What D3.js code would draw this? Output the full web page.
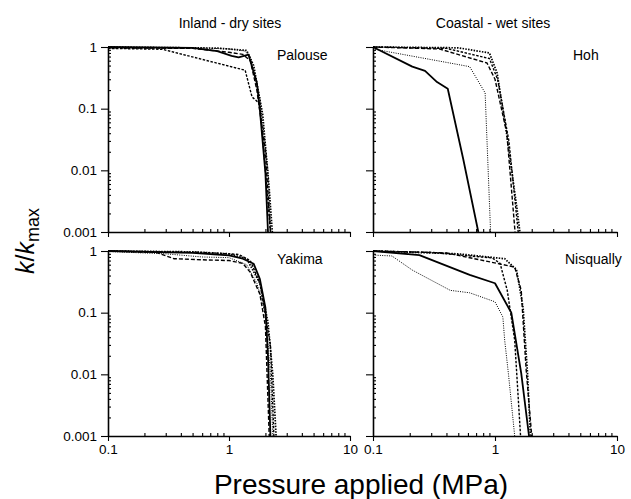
<!DOCTYPE html>
<html><head><meta charset="utf-8">
<script src="https://cdn.jsdelivr.net/npm/d3@7"></script>
<style>
html,body{margin:0;padding:0;background:#fff;}
svg{display:block;font-family:"Liberation Sans",Arial,sans-serif;}
</style></head>
<body><svg id="c" width="631" height="499"></svg>
<script>
// ---------- DATA ----------
const columnTitles = ["Inland - dry sites", "Coastal - wet sites"];
const siteNames = ["Palouse", "Hoh", "Yakima", "Nisqually"];
const yTickValues = [1, 0.1, 0.01, 0.001];
const yTickLabels = ["1", "0.1", "0.01", "0.001"];
const xTickValues = [0.1, 1, 10];
const xTickLabels = ["0.1", "1", "10"];

// each series: list of [pressure (MPa), k/kmax]
const palouse = [
  [[0.1,1],[0.5,0.97],[0.8,0.86],[1.05,0.72],[1.2,0.68],[1.45,0.75],[1.7,0.26],[1.8,0.095],[2.0,0.009],[2.1,0.001]],
  [[0.1,0.97],[0.6,0.96],[1.0,0.93],[1.35,0.86],[1.5,0.7],[1.8,0.15],[2.1,0.01],[2.22,0.001]],
  [[0.1,0.97],[0.5,0.95],[1.0,0.82],[1.3,0.76],[1.5,0.6],[1.7,0.2],[2.0,0.02],[2.2,0.001]],
  [[0.1,0.95],[0.28,0.92],[1.36,0.42],[1.55,0.155],[1.8,0.12],[2.0,0.01],[2.2,0.001]],
  [[0.1,1],[0.8,0.96],[1.4,0.88],[1.6,0.5],[1.9,0.08],[2.15,0.005],[2.28,0.001]]
];
const hoh = [
  [[0.1,1],[0.21,0.48],[0.267,0.41],[0.335,0.27],[0.41,0.21],[0.55,0.015],[0.73,0.001]],
  [[0.1,0.93],[0.62,0.48],[0.83,0.18],[0.92,0.001]],
  [[0.1,1],[0.35,0.93],[0.86,0.55],[1.0,0.3],[1.25,0.04],[1.46,0.001]],
  [[0.1,1],[0.4,0.95],[0.9,0.65],[1.05,0.3],[1.3,0.03],[1.55,0.001]],
  [[0.1,1],[0.5,0.97],[0.9,0.8],[1.04,0.38],[1.21,0.059],[1.51,0.0025],[1.6,0.001]]
];
const yakima = [
  [[0.1,1],[0.5,0.93],[1.0,0.85],[1.3,0.75],[1.6,0.62],[1.8,0.35],[2.0,0.12],[2.1,0.02],[2.2,0.001]],
  [[0.1,0.98],[0.3,0.9],[0.6,0.8],[1.0,0.78],[1.4,0.6],[1.7,0.3],[2.0,0.1],[2.2,0.01],[2.3,0.001]],
  [[0.1,1],[0.25,0.95],[0.35,0.75],[0.6,0.72],[1.0,0.7],[1.3,0.63],[1.5,0.45],[1.8,0.2],[2.0,0.06],[2.15,0.001]],
  [[0.1,1],[0.6,0.95],[1.2,0.88],[1.5,0.7],[1.8,0.3],[2.2,0.03],[2.35,0.001]],
  [[0.1,1],[0.5,0.97],[1.0,0.9],[1.4,0.75],[1.8,0.3],[2.1,0.07],[2.3,0.01],[2.45,0.001]]
];
const nisqually = [
  [[0.1,1],[0.24,0.86],[0.62,0.41],[1.0,0.3],[1.36,0.1],[1.64,0.0105],[1.9,0.001]],
  [[0.1,0.86],[0.143,0.83],[0.21,0.49],[0.43,0.23],[0.62,0.21],[1.0,0.15],[1.16,0.085],[1.2,0.036],[1.29,0.01],[1.45,0.001]],
  [[0.1,1],[0.4,0.93],[1.45,0.55],[1.64,0.23],[1.8,0.012],[2.0,0.001]],
  [[0.1,1],[0.3,0.95],[0.95,0.77],[1.1,0.63],[1.26,0.23],[1.45,0.036],[1.62,0.001]],
  [[0.1,1],[0.5,0.9],[1.2,0.75],[1.5,0.5],[1.7,0.12],[1.85,0.01],[1.95,0.001]]
];
const panelData = [palouse, hoh, yakima, nisqually];

// ---------- STYLES / LAYOUT ----------
const lineStyles = [
  {w:1.8, dash:null},
  {w:1.0, dash:"1,1.3"},
  {w:1.4, dash:"4,2"},
  {w:1.4, dash:"2.5,1.5"},
  {w:1.7, dash:"1.5,1.3"}
];
const colX = [[108,350],[373,617]];
const rowY = [[232,47],[436,251]];

const svg = d3.select("#c");
svg.append("rect").attr("width",631).attr("height",499).attr("fill","#fff");

const minorVals = [];
for (let e=-3;e<0;e++) for (let m=2;m<=9;m++) minorVals.push(m*Math.pow(10,e));
const minorX = [];
for (let e=-1;e<1;e++) for (let m=2;m<=9;m++) minorX.push(m*Math.pow(10,e));

panelData.forEach((series,i)=>{
  const col = i%2, row = Math.floor(i/2);
  const x = d3.scaleLog().domain([0.1,10]).range(colX[col]);
  const y = d3.scaleLog().domain([0.001,1]).range(rowY[row]);
  const g = svg.append("g");

  // curves
  const line = d3.line().x(d=>x(d[0])).y(d=>y(d[1]));
  series.forEach((pts,k)=>{
    const s = lineStyles[k];
    g.append("path").attr("d",line(pts)).attr("fill","none")
      .attr("stroke","#000").attr("stroke-width",s.w)
      .attr("stroke-dasharray",s.dash).attr("stroke-linejoin","round");
  });

  // y axis major
  const ya = d3.axisLeft(y).tickValues(yTickValues)
    .tickFormat(col===0 ? (d,j)=>yTickLabels[j] : ()=> "")
    .tickSize(7).tickSizeOuter(0).tickPadding(4);
  const gy = g.append("g").attr("transform",`translate(${colX[col][0]},0)`).call(ya);
  // y axis minor (inward)
  const yam = d3.axisLeft(y).tickValues(minorVals).tickFormat(()=>"").tickSize(-3).tickSizeOuter(0);
  const gym = g.append("g").attr("transform",`translate(${colX[col][0]},0)`).call(yam);
  gym.select(".domain").remove();

  // x axis major (outward, down)
  const xa = d3.axisBottom(x).tickValues(xTickValues)
    .tickFormat(row===1 ? (d,j)=>xTickLabels[j] : ()=> "")
    .tickSize(5).tickSizeOuter(0).tickPadding(3);
  const gx = g.append("g").attr("transform",`translate(0,${rowY[row][0]})`).call(xa);
  const xam = d3.axisBottom(x).tickValues(minorX).tickFormat(()=>"").tickSize(-3).tickSizeOuter(0);
  const gxm = g.append("g").attr("transform",`translate(0,${rowY[row][0]})`).call(xam);
  gxm.select(".domain").remove();

  [gy,gym,gx,gxm].forEach(a=>{
    a.selectAll(".domain").attr("stroke","#000").attr("stroke-width",1.6);
    a.selectAll(".tick line").attr("stroke","#000").attr("stroke-width",1.1);
    a.selectAll("text").attr("fill","#000").style("font-size","13.5px")
      .style("font-family","'Liberation Sans',Arial,sans-serif");
  });

  // site name
  const nx = col===0 ? 277 : (i===1 ? 573 : 565);
  g.append("text").attr("x",nx).attr("y",rowY[row][1]+13)
    .style("font-size","14px").attr("fill","#000").text(siteNames[i]);
});

// column titles
columnTitles.forEach((t,c)=>{
  svg.append("text").attr("x",c===0?230:493).attr("y",28).attr("text-anchor","middle")
    .style("font-size","14px").attr("fill","#000").text(t);
});

// y label
const yl = svg.append("text").attr("transform","translate(34,241) rotate(-90)")
  .attr("text-anchor","middle").style("font-size","25px").attr("fill","#000");
yl.append("tspan").style("font-style","italic").text("k");
yl.append("tspan").text("/");
yl.append("tspan").style("font-style","italic").text("k");
yl.append("tspan").attr("dy",5).style("font-size","18px").text("max");

// x label
svg.append("text").attr("x",361).attr("y",494).attr("text-anchor","middle")
  .style("font-size","28px").attr("fill","#000").text("Pressure applied (MPa)");
</script></body></html>
